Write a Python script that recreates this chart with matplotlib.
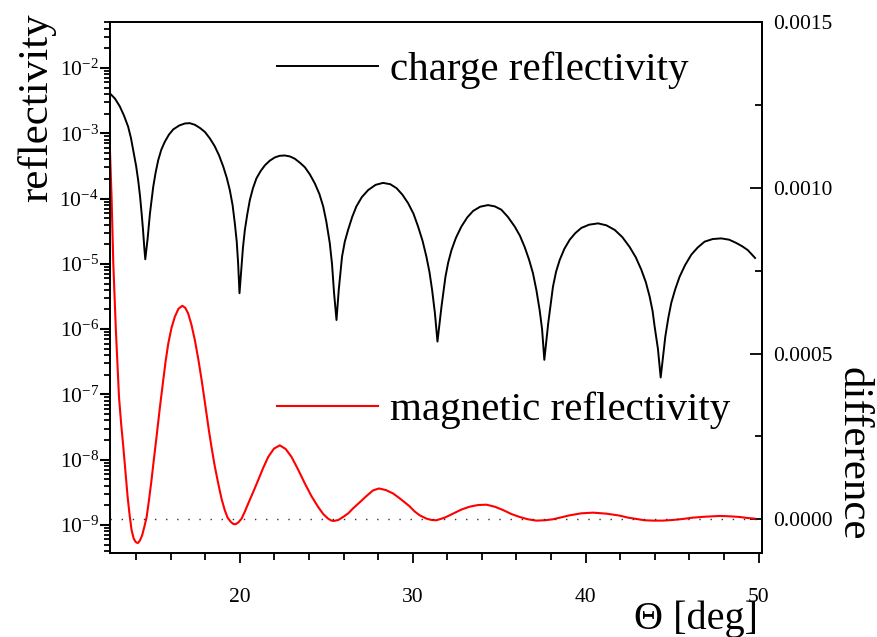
import matplotlib
matplotlib.use("Agg")
import matplotlib.pyplot as plt
from matplotlib.ticker import LogLocator, MultipleLocator, FixedLocator, LogFormatterSciNotation, FormatStrFormatter
from matplotlib.lines import Line2D

plt.rcParams['font.family'] = ['Liberation Serif', 'DejaVu Serif']
plt.rcParams['mathtext.fontset'] = 'custom'
plt.rcParams['mathtext.rm'] = 'Liberation Serif'
plt.rcParams['mathtext.it'] = 'Liberation Serif:italic'
plt.rcParams['mathtext.bf'] = 'Liberation Serif:bold'
plt.rcParams['axes.unicode_minus'] = False

# charge reflectivity (left, log axis): angle [deg] and log10 of reflectivity
theta_c = [12.49, 12.78, 13.06, 13.30, 13.54, 13.70, 13.83, 14.00, 14.12, 14.23, 14.32, 14.40, 14.47, 14.53,
           14.66, 14.80, 14.99, 15.13, 15.28, 15.46, 15.66, 15.90, 16.15, 16.50, 16.82, 17.10, 17.40, 17.70,
           17.98, 18.27, 18.55, 18.80, 19.04, 19.24, 19.42, 19.58, 19.71, 19.82, 19.90, 19.98,
           20.10, 20.18, 20.29, 20.43, 20.58, 20.76, 20.96, 21.20, 21.45, 21.73, 22.02, 22.30, 22.60, 22.90,
           23.18, 23.47, 23.76, 24.05, 24.34, 24.60, 24.82, 25.00, 25.20, 25.33, 25.45, 25.59,
           25.72, 25.91, 26.07, 26.26, 26.50, 26.74, 27.05, 27.42, 27.85, 28.28, 28.70, 29.06, 29.40, 29.73,
           30.04, 30.31, 30.57, 30.79, 30.97, 31.12, 31.28, 31.43,
           31.66, 31.89, 32.05, 32.24, 32.50, 32.81, 33.15, 33.49, 33.90, 34.35, 34.75, 35.12, 35.50, 35.90,
           36.20, 36.47, 36.72, 36.95, 37.15, 37.34, 37.48, 37.61,
           37.84, 38.11, 38.29, 38.50, 38.77, 39.08, 39.40, 39.75, 40.20, 40.72, 41.20, 41.68, 42.12, 42.54,
           42.90, 43.22, 43.48, 43.70, 43.87, 43.99, 44.18, 44.34,
           44.61, 44.78, 44.95, 45.18, 45.43, 45.75, 46.11, 46.48, 46.88, 47.35, 47.84, 48.30, 48.71, 49.05,
           49.38, 49.80]
log_charge = [-2.39, -2.47, -2.59, -2.73, -2.90, -3.07, -3.26, -3.50, -3.72, -3.97, -4.23, -4.48, -4.74, -4.93,
              -4.63, -4.23, -3.82, -3.60, -3.41, -3.25, -3.13, -3.02, -2.94, -2.88, -2.85, -2.845, -2.87, -2.92,
              -2.98, -3.08, -3.20, -3.34, -3.51, -3.68, -3.87, -4.10, -4.38, -4.66, -4.99, -5.45,
              -5.04, -4.75, -4.48, -4.24, -4.02, -3.84, -3.69, -3.58, -3.49, -3.42, -3.37, -3.345, -3.34, -3.355,
              -3.39, -3.45, -3.52, -3.63, -3.77, -3.93, -4.12, -4.35, -4.68, -5.00, -5.45, -5.86,
              -5.40, -4.89, -4.66, -4.48, -4.28, -4.12, -3.98, -3.87, -3.79, -3.76, -3.78, -3.84, -3.94, -4.07,
              -4.23, -4.43, -4.65, -4.89, -5.13, -5.40, -5.75, -6.19,
              -5.66, -5.20, -4.98, -4.79, -4.60, -4.43, -4.29, -4.19, -4.125, -4.10, -4.12, -4.17, -4.28, -4.43,
              -4.57, -4.74, -4.93, -5.14, -5.40, -5.71, -6.00, -6.47,
              -5.90, -5.35, -5.12, -4.94, -4.77, -4.63, -4.53, -4.45, -4.40, -4.38, -4.41, -4.48, -4.59, -4.74,
              -4.90, -5.09, -5.28, -5.50, -5.72, -5.96, -6.30, -6.74,
              -6.11, -5.83, -5.60, -5.39, -5.20, -5.02, -4.86, -4.75, -4.66, -4.62, -4.61, -4.63, -4.68, -4.73,
              -4.79, -4.91]

# magnetic reflectivity difference (right, linear axis)
theta_m = [12.49, 12.58, 12.68, 12.83, 13.01, 13.14, 13.26, 13.39, 13.51, 13.63, 13.74, 13.86, 13.97, 14.05,
           14.12, 14.23, 14.35, 14.48, 14.61, 14.75, 14.89, 15.03, 15.18, 15.37, 15.57, 15.71, 15.86, 16.05,
           16.24, 16.45, 16.67, 16.84, 17.01, 17.20, 17.40, 17.60, 17.79, 17.93, 18.07, 18.21, 18.36, 18.55,
           18.75, 18.94, 19.13, 19.30, 19.48, 19.62, 19.75, 19.92, 20.10, 20.28, 20.48, 20.77, 21.06, 21.35,
           21.64, 21.97, 22.31, 22.65, 22.99, 23.37, 23.76, 24.15, 24.53, 24.82, 25.10, 25.30, 25.45, 25.70,
           26.00, 26.27, 26.55, 26.95, 27.32, 27.70, 28.05, 28.45, 28.86, 29.25, 29.80, 30.10, 30.40, 30.79,
           31.08, 31.37, 31.85, 32.33, 32.80, 33.29, 33.78, 34.26, 34.74, 35.22, 35.70, 36.18, 36.66, 37.15,
           37.63, 38.11, 38.60, 39.08, 39.75, 40.43, 41.20, 41.97, 42.45, 42.93, 43.42, 43.90, 44.48, 45.06,
           45.63, 46.21, 46.98, 47.75, 48.32, 48.90, 49.35, 49.77]
magnetic = [1.109e-3, 9.73e-4, 7.72e-4, 5.70e-4, 3.69e-4, 2.85e-4, 2.18e-4, 1.40e-4, 6.7e-5, 1.0e-5,
            -3.3e-5, -5.8e-5, -6.8e-5, -7.1e-5, -7.1e-5, -6.3e-5, -4.8e-5, -2.2e-5, 7e-6, 6.0e-5,
            1.18e-4, 1.82e-4, 2.48e-4, 3.35e-4, 4.20e-4, 4.78e-4, 5.30e-4, 5.78e-4, 6.11e-4, 6.35e-4,
            6.44e-4, 6.38e-4, 6.21e-4, 5.87e-4, 5.40e-4, 4.82e-4, 4.20e-4, 3.70e-4, 3.19e-4, 2.68e-4,
            2.18e-4, 1.60e-4, 1.08e-4, 6.2e-5, 2.7e-5, 4e-6, -8e-6, -1.4e-5, -1.5e-5, -9e-6,
            2e-6, 2.2e-5, 4.7e-5, 8.2e-5, 1.18e-4, 1.55e-4, 1.88e-4, 2.13e-4, 2.23e-4, 2.12e-4,
            1.88e-4, 1.50e-4, 1.08e-4, 6.9e-5, 3.7e-5, 1.6e-5, 2e-6, -4e-6, -5e-6, -2e-6,
            8e-6, 1.8e-5, 3.3e-5, 5.2e-5, 7.0e-5, 8.7e-5, 9.3e-5, 8.8e-5, 7.8e-5, 6.3e-5,
            4.0e-5, 2.4e-5, 1.2e-5, 2e-6, -2e-6, -3e-6, 5e-6, 1.7e-5, 2.9e-5, 3.8e-5,
            4.3e-5, 4.4e-5, 3.8e-5, 2.8e-5, 1.6e-5, 7e-6, 0.0, -4e-6, -3e-6, 0.0,
            6e-6, 1.2e-5, 1.8e-5, 2.0e-5, 1.7e-5, 1.1e-5, 5e-6, 1e-6, -3e-6, -4e-6,
            -4e-6, -2e-6, 1e-6, 5e-6, 8e-6, 1e-5, 9e-6, 7e-6, 4e-6, 2e-6]

x_major = [20, 30, 40, 50]
right_ticks = [0.0000, 0.0005, 0.0010, 0.0015]

charge = [10.0 ** v for v in log_charge]

W, H = 877, 637
fig = plt.figure(figsize=(W / 100, H / 100), dpi=100)
ax = fig.add_axes([110 / W, 1 - 553 / H, (762 - 110) / W, (553 - 22) / H])
ax2 = ax.twinx()

lc, = ax.plot(theta_c, charge, color='black', lw=1.4, solid_joinstyle='round')
lm, = ax2.plot(theta_m, magnetic, color='red', lw=1.5, solid_joinstyle='round')
ax2.axhline(0.0, color='#333333', lw=1.0, ls=(0, (1, 7)))

ax.set_yscale('log')
ax.set_xlim(12.49, 50.2)
ax.set_ylim(10 ** -9.429, 10 ** -1.2955)
ax2.set_ylim(-1.017e-4, 1.5e-3)

ax.xaxis.set_major_locator(FixedLocator(x_major))
ax.xaxis.set_minor_locator(MultipleLocator(2))
ax.yaxis.set_major_locator(LogLocator(base=10, numticks=20))
ax.yaxis.set_minor_locator(LogLocator(base=10, subs=range(2, 10), numticks=20))
ax.yaxis.set_major_formatter(LogFormatterSciNotation())
ax2.yaxis.set_major_locator(FixedLocator(right_ticks))
ax2.yaxis.set_minor_locator(MultipleLocator(0.00025))
ax2.yaxis.set_major_formatter(FormatStrFormatter('%.4f'))

ax.tick_params(axis='x', which='major', direction='out', length=7, width=1.3, labelsize=15.5, pad=18)
ax.tick_params(axis='x', which='minor', direction='out', length=5, width=1.3)
ax.tick_params(axis='y', which='major', direction='out', length=7, width=1.5, labelsize=15.5, pad=1)
ax.tick_params(axis='y', which='minor', direction='out', length=4, width=1.3)
ax2.tick_params(axis='y', which='major', direction='in', length=9, width=1.3, labelsize=15.5, pad=8)
ax2.tick_params(axis='y', which='minor', direction='in', length=5, width=1.3)

for a in (ax, ax2):
    for s in a.spines.values():
        s.set_linewidth(1.3)

fs_big = 29.5
ax.legend([lc], ['charge reflectivity'], loc='center left',
          bbox_to_anchor=(277 / W, 1 - 70 / H), bbox_transform=fig.transFigure,
          frameon=False, fontsize=fs_big, handlelength=2.46, handletextpad=0.3,
          borderpad=0, borderaxespad=0)
ax2.legend([Line2D([], [], color='red', lw=1.5)], ['magnetic reflectivity'], loc='center left',
           bbox_to_anchor=(277 / W, 1 - 410 / H), bbox_transform=fig.transFigure,
           frameon=False, fontsize=fs_big, handlelength=2.46, handletextpad=0.3,
           borderpad=0, borderaxespad=0)

fig.text(37 / W, 1 - 108 / H, 'reflectivity', rotation=90, ha='center', va='center', fontsize=31)
fig.text(853 / W, 1 - 454 / H, 'difference', rotation=270, ha='center', va='center', fontsize=31)
fig.text(758 / W, 1 - 629 / H, 'Θ [deg]', ha='right', va='baseline', fontsize=29)

fig.savefig('out.png', dpi=100)
